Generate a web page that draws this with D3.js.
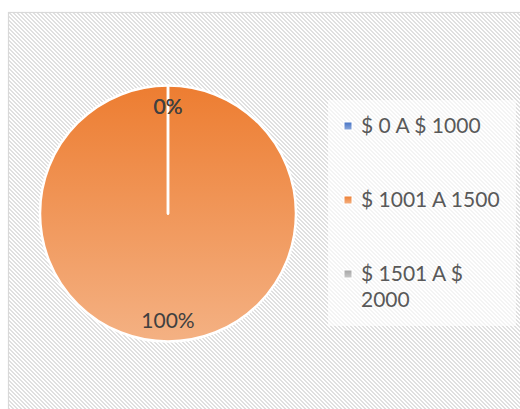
<!DOCTYPE html>
<html>
<head>
<meta charset="utf-8">
<script src="https://cdn.jsdelivr.net/npm/d3@7"></script>
<style>
  body { margin: 0; background: #fff; }
  svg { display: block; }
</style>
</head>
<body>
<svg id="chart" width="520" height="409"></svg>
<script>
let categories = ['$ 0 A $ 1000', '$ 1001 A 1500', '$ 1501 A $ 2000'];
let values = [0, 100, 0];
let legendLines = [['$ 0 A $ 1000'], ['$ 1001 A 1500'], ['$ 1501 A $', '2000']];

let colorsTop = ['#4472c4', '#ed7d31', '#a5a5a5'];
let colorsBottom = ['#8faadc', '#f4b183', '#c9c9c9'];

let svg = d3.select('#chart');
let defs = svg.append('defs');

// hatch pattern of the chart area
let hatch = defs.append('pattern')
  .attr('id', 'hatch')
  .attr('patternUnits', 'userSpaceOnUse')
  .attr('width', 4)
  .attr('height', 4);
hatch.append('rect').attr('width', 4).attr('height', 4).attr('fill', '#ffffff');
for (let i = 0; i < 4; i++) {
  hatch.append('rect').attr('x', i).attr('y', i).attr('width', 2).attr('height', 1).attr('fill', '#e0e0e0');
  if (i == 3) {
    hatch.append('rect').attr('x', 0).attr('y', 3).attr('width', 1).attr('height', 1).attr('fill', '#e0e0e0');
  }
}

// gradients for slices and legend keys
categories.forEach(function(c, i) {
  let g = defs.append('linearGradient')
    .attr('id', 'grad' + i)
    .attr('x1', 0).attr('y1', 0).attr('x2', 0).attr('y2', 1);
  g.append('stop').attr('offset', '0%').attr('stop-color', colorsTop[i]);
  g.append('stop').attr('offset', '100%').attr('stop-color', colorsBottom[i]);
});

// chart area
svg.append('rect')
  .attr('x', 8.5).attr('y', 12.5)
  .attr('width', 520).attr('height', 410)
  .attr('fill', 'url(#hatch)')
  .attr('stroke', '#d9d9d9')
  .attr('stroke-width', 1.2);

// pie
let cx = 168, cy = 213.5, radius = 128;
let data = values.map(function(v, i) { return {name: categories[i], value: v, index: i}; });

let pie = d3.pie().sort(null).value(function(d) { return d.value; });
let arc = d3.arc().innerRadius(0).outerRadius(radius);
let labelArc = d3.arc().innerRadius(radius * 0.835).outerRadius(radius * 0.835);

let g = svg.append('g').attr('transform', 'translate(' + cx + ',' + cy + ')');

let arcs = pie(data);

// full slices first, then the empty ones so their edge lines stay on top
g.selectAll('path')
  .data(arcs.slice().sort(function(a, b) { return b.value - a.value; }))
  .enter()
  .append('path')
  .attr('d', arc)
  .attr('fill', function(d) { return 'url(#grad' + d.data.index + ')'; })
  .attr('stroke', '#ffffff')
  .attr('stroke-width', 2.5)
  .attr('stroke-linejoin', 'round');

let seen = {};
g.selectAll('text.pct')
  .data(arcs.filter(function(d) {
    let key = Math.round(d.startAngle * 100) + '_' + d.value;
    if (seen[key]) return false;
    seen[key] = true;
    return true;
  }))
  .enter()
  .append('text')
  .attr('class', 'pct')
  .attr('transform', function(d) { return 'translate(' + labelArc.centroid(d) + ')'; })
  .attr('dy', '0.36em')
  .attr('text-anchor', 'middle')
  .attr('font-family', 'Lato, "Open Sans", sans-serif')
  .attr('font-size', 21)
  .attr('fill', '#404040')
  .text(function(d) { return Math.round(d.value / d3.sum(values) * 100) + '%'; });

// legend
svg.append('rect')
  .attr('x', 328).attr('y', 100)
  .attr('width', 188).attr('height', 226)
  .attr('fill', '#ffffff')
  .attr('opacity', 0.65);

let legendY = d3.scalePoint().domain(categories).range([126, 274]);

let items = svg.selectAll('g.legend')
  .data(categories)
  .enter()
  .append('g')
  .attr('class', 'legend')
  .attr('transform', function(d) { return 'translate(344,' + legendY(d) + ')'; });

items.append('rect')
  .attr('x', 0).attr('y', -4)
  .attr('width', 8).attr('height', 8)
  .attr('fill', function(d, i) { return 'url(#grad' + i + ')'; })
  .attr('stroke', '#ffffff')
  .attr('stroke-width', 1);

items.append('text')
  .attr('x', 17)
  .attr('y', 7)
  .attr('font-family', 'Lato, "Open Sans", sans-serif')
  .attr('font-size', 21)
  .attr('fill', '#595959')
  .selectAll('tspan')
  .data(function(d, i) { return legendLines[i]; })
  .enter()
  .append('tspan')
  .attr('x', 17)
  .attr('dy', function(d, i) { return i == 0 ? 0 : 26; })
  .text(function(d) { return d; });
</script>
</body>
</html>
